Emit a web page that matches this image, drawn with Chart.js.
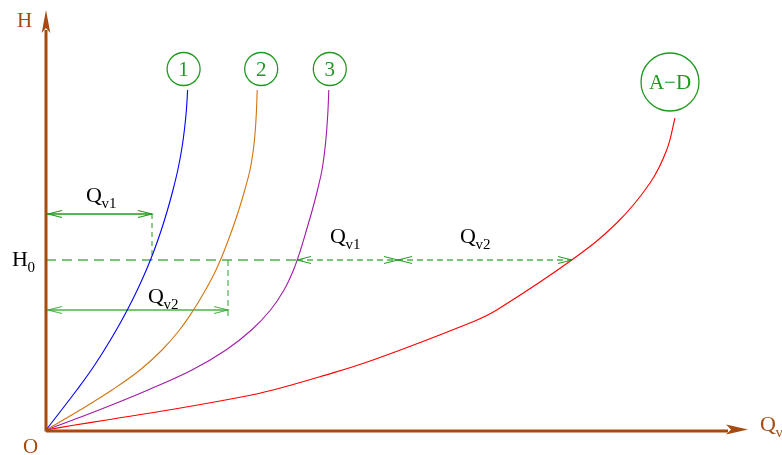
<!DOCTYPE html>
<html>
<head>
<meta charset="utf-8">
<script src="https://cdn.jsdelivr.net/npm/chart.js@4/dist/chart.umd.min.js"></script>
<style>
  html, body { margin: 0; padding: 0; background: #ffffff; }
  #wrap { width: 782px; height: 455px; }
</style>
</head>
<body>
<div id="wrap"><canvas id="c" width="782" height="455"></canvas></div>
<script>
// Pump characteristic curves 1, 2, 3 (sampled every 2 units of head) and the system curve A–D
const headLevels = [0, 2, 4, 6, 8, 10, 12, 14, 16, 18, 20, 22, 24, 26, 28, 30, 32, 34];
const pumpQ1 = [0, 1.55, 3.08, 4.53, 5.83, 7.03, 8.13, 9.13, 10.03, 10.83, 11.53, 12.15, 12.7, 13.18, 13.56, 13.84, 14.04, 14.16];
const pumpQ2 = [0, 3.4, 6.6, 9.4, 11.6, 13.35, 14.75, 15.95, 17.0, 17.85, 18.6, 19.28, 19.88, 20.4, 20.73, 20.93, 21.05, 21.12];
const pumpQ3 = [0, 5.3, 10.2, 14.6, 18.0, 20.55, 22.45, 23.8, 24.75, 25.45, 26.05, 26.63, 27.15, 27.6, 27.88, 28.07, 28.2, 28.28];
const systemQ = [0, 2.73, 6.07, 12.73, 19.4, 22.7, 27.4, 32.7, 42.7, 45.07, 52.57, 57.07, 60.4, 62.07, 62.9];
const systemH = [0, 0.47, 1.0, 2.07, 3.27, 4.0, 5.33, 7.0, 10.83, 12, 17, 20.7, 24.7, 28, 31.2];

const curveTags = ['1', '2', '3', 'A\u2212D'];

// Operating head and flow readings
const H0 = 17;
const Qv1Single = 10.6;   // curve 1 alone at H0
const Qv2Single = 18.2;   // curve 2 alone at H0
const Q3AtH0 = 25.1;      // curve 3 at H0
const QMidAtH0 = 35.2;    // split point between Qv1 and Qv2 on the H0 line
const QSysAtH0 = 52.6;    // system curve at H0
const levelQv1 = 21.6;
const levelQv2 = 12;

const BROWN = '#a64a0e';
const GREEN = '#1f9a1f';
const LIGHT_GREEN = 'rgba(60,170,60,0.9)';
const SERIF = '"Liberation Serif", "DejaVu Serif", serif';

const pts = (qs, hs) => qs.map((q, i) => ({ x: q, y: hs[i] }));

const curve = (qs, hs, color, w) => ({
  type: 'line', data: pts(qs, hs), borderColor: color, borderWidth: w,
  pointRadius: 0, fill: false, tension: 0.4
});
const seg = (a, b, color, w, dash) => ({
  type: 'line', data: [a, b], borderColor: color, borderWidth: w,
  borderDash: dash || [], pointRadius: 0, fill: false, tension: 0
});

const lastOf = arr => arr[arr.length - 1];
const tagQ = [lastOf(pumpQ1) - 0.4, lastOf(pumpQ2) + 0.4, lastOf(pumpQ3) + 0.1, lastOf(systemQ) - 0.5];
const tagH = [lastOf(headLevels) + 2.1, lastOf(headLevels) + 2.1, lastOf(headLevels) + 2.1, lastOf(systemH) + 3.6];
const tagR = [16.5, 16.5, 16.5, 29];

const datasets = [
  // axes
  seg({ x: 0, y: -0.1 }, { x: 68.2, y: -0.1 }, BROWN, 3),
  seg({ x: 0, y: -0.15 }, { x: 0, y: 40 }, BROWN, 3),
  // curves
  curve(pumpQ1, headLevels, '#0000ff', 1.1),
  curve(pumpQ2, headLevels, '#d2750f', 1.1),
  curve(pumpQ3, headLevels, '#a01aa8', 1.1),
  curve(systemQ, systemH, '#ff0000', 1.1),
  // H0 line and flow dimensions
  seg({ x: 0, y: H0 }, { x: Q3AtH0, y: H0 }, LIGHT_GREEN, 1.3, [10, 6]),
  seg({ x: Q3AtH0, y: H0 }, { x: QSysAtH0, y: H0 }, LIGHT_GREEN, 1.3, [6, 4]),
  seg({ x: 0, y: levelQv1 }, { x: Qv1Single, y: levelQv1 }, GREEN, 1.3),
  seg({ x: Qv1Single, y: levelQv1 }, { x: Qv1Single, y: H0 }, GREEN, 1, [5, 4]),
  seg({ x: 0, y: levelQv2 }, { x: Qv2Single, y: levelQv2 }, LIGHT_GREEN, 1.6),
  seg({ x: Qv2Single, y: H0 }, { x: Qv2Single, y: levelQv2 - 1 }, LIGHT_GREEN, 1.2, [6, 4]),
  // curve tags
  {
    type: 'scatter', data: tagQ.map((q, i) => ({ x: q, y: tagH[i] })),
    pointRadius: tagR, pointHoverRadius: tagR, pointBorderColor: GREEN,
    pointBackgroundColor: 'rgba(0,0,0,0)', pointBorderWidth: 1.3, pointStyle: 'circle'
  }
];

function stealth(ctx, tx, ty, dx, dy, len, half, notch, color) {
  const nx = -dy, ny = dx;
  ctx.beginPath();
  ctx.moveTo(tx, ty);
  ctx.lineTo(tx - dx * len + nx * half, ty - dy * len + ny * half);
  ctx.lineTo(tx - dx * notch, ty - dy * notch);
  ctx.lineTo(tx - dx * len - nx * half, ty - dy * len - ny * half);
  ctx.closePath();
  ctx.fillStyle = color;
  ctx.fill();
}

function openHead(ctx, tx, ty, dx, color, w) {
  const len = 14, half = 3.5;
  ctx.beginPath();
  ctx.moveTo(tx - dx * len, ty - half);
  ctx.lineTo(tx, ty);
  ctx.lineTo(tx - dx * len, ty + half);
  ctx.strokeStyle = color;
  ctx.lineWidth = w;
  ctx.stroke();
}

function subText(ctx, main, sub, x, y, color, size, subSize, drop) {
  ctx.fillStyle = color;
  ctx.textAlign = 'left';
  ctx.textBaseline = 'alphabetic';
  ctx.font = size + 'px ' + SERIF;
  ctx.fillText(main, x, y);
  const w = ctx.measureText(main).width;
  if (sub) {
    ctx.font = subSize + 'px ' + SERIF;
    ctx.fillText(sub, x + w - 0.5, y + drop);
  }
}

const decor = {
  id: 'decor',
  afterDatasetsDraw(chart) {
    const ctx = chart.ctx;
    const sx = chart.scales.x, sy = chart.scales.y;
    const px = v => sx.getPixelForValue(v);
    const py = v => sy.getPixelForValue(v);
    ctx.save();

    // axis arrowheads
    stealth(ctx, px(70.2), py(0) - 0.5, 1, 0, 22, 5, 17, BROWN);
    stealth(ctx, px(0), py(42), 0, -1, 23, 4.3, 18, BROWN);

    // dimension arrowheads
    openHead(ctx, px(0) + 2, py(levelQv1), -1, GREEN, 1.1);
    openHead(ctx, px(Qv1Single), py(levelQv1), 1, GREEN, 1.1);
    openHead(ctx, px(0) + 2, py(levelQv2), -1, LIGHT_GREEN, 1.1);
    openHead(ctx, px(Qv2Single), py(levelQv2), 1, LIGHT_GREEN, 1.1);
    openHead(ctx, px(Q3AtH0), py(H0), -1, GREEN, 1);
    openHead(ctx, px(QMidAtH0), py(H0), 1, GREEN, 1);
    openHead(ctx, px(QMidAtH0), py(H0), -1, GREEN, 1);
    openHead(ctx, px(QSysAtH0), py(H0), 1, GREEN, 1);

    // flow labels
    subText(ctx, 'Q', 'v1', px(4.0), py(22.8), '#000', 22, 15, 6);
    subText(ctx, 'Q', 'v2', px(10.2), py(12.7), '#000', 22, 15, 6);
    subText(ctx, 'Q', 'v1', px(28.4), py(18.7), '#000', 22, 15, 6);
    subText(ctx, 'Q', 'v2', px(41.4), py(18.7), '#000', 22, 15, 6);
    subText(ctx, 'H', '0', px(-3.4), py(16.4), '#000', 22, 15, 6);

    // axis names
    subText(ctx, 'H', '', px(-2.9), py(40.3), BROWN, 21, 15, 0);
    subText(ctx, 'O', '', px(-2.3), py(-2.3), BROWN, 21, 15, 0);
    subText(ctx, 'Q', 'v', px(71.4), py(-0.1), BROWN, 22, 15, 6);

    // curve tag text
    ctx.fillStyle = GREEN;
    ctx.textAlign = 'center';
    ctx.textBaseline = 'middle';
    ctx.font = '21px ' + SERIF;
    curveTags.forEach((t, i) => ctx.fillText(t, px(tagQ[i]), py(tagH[i]) + 1));

    ctx.restore();
  }
};

new Chart(document.getElementById('c'), {
  data: { datasets },
  options: {
    responsive: false,
    animation: false,
    layout: { padding: 0, autoPadding: false },
    plugins: { legend: { display: false }, tooltip: { enabled: false } },
    events: [],
    scales: {
      x: { type: 'linear', display: false, min: -4.6, max: 73.6 },
      y: { type: 'linear', display: false, min: -2.5, max: 43 }
    }
  },
  plugins: [decor]
});
</script>
</body>
</html>
